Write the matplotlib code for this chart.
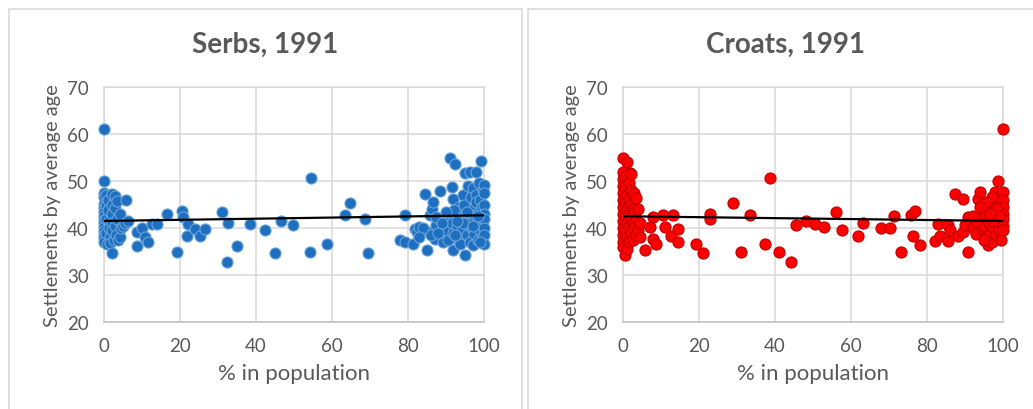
"""Settlements by average age vs. share of Serbs / Croats, 1991."""

import matplotlib

matplotlib.use("Agg")
import matplotlib.pyplot as plt
from matplotlib.patches import Rectangle

WIDTH_PX = 1033
HEIGHT_PX = 410
DPI = 100

# ---- data ----
serbs_pct = [
    0, 0, 0, 0, 0, 0, 0, 0, 0, 0, 0, 0, 0, 0, 0,
    0.5, 0.5, 0.5, 0.5, 0.8, 1.0, 1.0, 1.2, 1.2, 1.5, 1.5,
    2.0, 2.0, 2.0, 2.2, 2.2, 2.2, 2.5, 3.0, 3.0, 3.0, 3.2, 3.5, 3.5, 3.8,
    4.2, 4.2, 4.5, 5.0, 5.5, 5.8, 6.3,
    8.6, 8.8, 10.0, 10.8, 11.7, 12.5, 13.9, 16.5, 19.1, 20.4, 20.7, 21.8,
    22.2, 23.9, 25.3, 26.6, 31.0, 32.3, 32.7, 35.1, 38.4, 42.3, 45.0, 46.5,
    49.8, 54.4, 54.2, 58.6, 63.4, 64.7, 68.7, 69.6,
    77.9, 79.2, 79.2, 81.4, 81.8, 82.3, 82.8, 84.5, 84.9, 85.4, 85.8, 86.3,
    86.7, 87.1, 87.5, 88.4, 88.8, 89.3, 89.8, 90.3, 90.5, 91.0, 91.5, 91.5,
    91.9, 91.9, 91.9, 92.4, 92.6, 92.8, 93.2, 93.5, 93.8, 94.0, 94.2, 94.5,
    94.8, 95.0, 95.0, 95.2, 95.5, 95.8, 96.0, 96.3, 96.3, 96.5, 96.8, 97.0,
    97.0, 97.2, 97.5, 97.5, 97.8, 98.0, 98.0, 98.2, 98.4, 98.6, 98.8, 99.0,
    99.0, 99.3, 99.3, 99.5, 99.6, 99.7, 99.8, 100, 100, 100, 100, 100, 100,
    100, 100, 96.0, 94.5, 92.0, 93.0, 90.0, 87.5, 84.0, 83.0, 86.0, 88.0,
    89.0, 92.5, 95.5, 97.0, 98.5, 99.0,
]
serbs_age = [
    61.1, 50.1, 47.4, 46.5, 45.2, 44.3, 43.5, 42.6, 41.8, 41.0, 40.2, 39.4, 38.6, 37.8, 37.0,
    47.0, 44.8, 42.0, 39.0, 36.5, 46.0, 43.8, 41.5, 40.0, 38.0, 36.8,
    47.2, 45.0, 43.0, 41.0, 39.5, 34.7, 37.5, 46.8, 44.2, 40.5, 38.5, 45.7, 42.0, 37.5,
    43.0, 38.0, 40.0, 40.5, 41.0, 45.9, 41.5,
    39.1, 36.2, 40.0, 38.0, 37.0, 40.8, 40.9, 43.0, 34.9, 43.7, 42.3, 38.4,
    40.9, 39.8, 38.4, 39.8, 43.4, 32.8, 41.1, 36.2, 40.9, 39.5, 34.7, 41.4,
    40.6, 50.7, 34.8, 36.7, 42.8, 45.4, 42.0, 34.7,
    37.4, 42.8, 37.0, 36.7, 39.8, 39.1, 40.3, 47.3, 35.3, 39.1, 42.7, 44.0,
    45.5, 37.7, 40.6, 47.8, 41.5, 37.0, 39.5, 42.0, 37.5, 54.8, 48.7, 41.0,
    46.2, 35.3, 39.0, 53.7, 43.0, 40.5, 37.7, 44.5, 36.5, 42.0, 39.5, 47.0,
    45.0, 34.3, 51.6, 41.5, 38.5, 49.0, 43.5, 51.9, 37.0, 46.5, 40.0, 48.5,
    44.0, 36.3, 42.5, 38.8, 47.0, 51.9, 45.5, 41.0, 37.5, 49.5, 43.5, 39.5,
    46.0, 54.3, 41.8, 38.0, 44.5, 48.0, 40.5, 49.1, 47.5, 45.0, 43.0, 42.0, 40.0,
    38.5, 36.7, 40.8, 41.0, 43.8, 41.5, 43.5, 42.3, 40.0, 38.0, 38.5, 39.0,
    41.0, 38.5, 43.5, 40.5, 42.5, 37.0,
]

croats_pct = [
    0, 1.1, 1.8, 0, 0, 0, 0, 0, 0, 0, 0, 0, 0, 0, 0,
    0.4, 0.5, 0.5, 0.5, 0.5, 0.8, 1.0, 1.0, 1.0, 1.0, 1.0, 1.5, 1.5, 1.5,
    1.5, 1.5, 2.0, 2.0, 2.0, 2.0, 2.0, 2.5, 2.5, 2.5, 2.5, 3.0, 3.0, 3.0,
    3.3, 3.5, 3.5, 4.0, 4.0, 4.5, 4.5,
    5.7, 7.0, 7.9, 7.9, 8.8, 10.5, 11.0, 13.2, 12.7, 14.5, 14.5, 19.3, 21.1,
    22.8, 22.8, 28.9, 31.1, 33.3, 37.3, 38.6, 41.1, 44.1, 45.6, 48.2, 50.4,
    52.9, 56.1, 57.6, 61.8, 63.2, 68.0, 70.2, 71.3, 73.2, 75.9, 76.8, 76.3,
    78.1, 82.0, 82.9, 83.3, 85.5, 85.5, 86.0, 87.3, 88.2, 89.5, 89.5, 90.8,
    90.8, 89.9,
    91.5, 92.0, 92.5, 93.0, 93.4, 93.9, 94.0, 94.5, 94.8, 95.0, 95.3, 95.5,
    96.0, 96.1, 96.3, 96.5, 96.8, 97.0, 97.2, 97.5, 97.8, 98.0, 98.2, 98.5,
    98.7, 98.8, 99.0, 99.2, 99.4, 99.5, 99.6, 100, 100, 100, 100, 100, 100,
    100, 100, 98.5, 97.0, 95.5, 94.0, 93.0, 92.0, 97.5, 99.0, 95.0, 96.5,
]
croats_age = [
    54.9, 54.0, 51.6, 52.0, 50.5, 49.0, 47.5, 46.0, 44.5, 43.0, 41.5, 40.0, 38.5, 37.0, 36.0,
    34.2, 48.5, 45.5, 42.5, 39.5, 51.0, 47.0, 44.0, 41.0, 38.0, 35.5, 49.5, 46.0, 43.0,
    40.5, 37.0, 51.5, 48.0, 45.0, 42.0, 39.0, 47.0, 44.0, 41.0, 37.5, 47.5, 43.5, 40.0,
    46.3, 42.0, 38.5, 44.0, 39.5, 41.0, 38.0,
    35.3, 40.2, 42.3, 37.7, 36.7, 42.7, 40.2, 42.8, 38.4, 39.8, 37.0, 36.5, 34.7,
    43.0, 42.0, 45.4, 34.8, 42.8, 36.7, 50.7, 34.8, 32.8, 40.6, 41.4, 40.9,
    40.2, 43.3, 39.5, 38.4, 41.1, 40.0, 39.9, 42.6, 35.0, 42.8, 43.7, 38.4,
    36.3, 37.2, 40.9, 38.3, 40.6, 37.2, 39.5, 47.3, 38.3, 46.2, 39.1, 34.8,
    42.3, 40.6,
    41.5, 40.0, 42.0, 38.8, 46.2, 47.7, 41.0, 43.0, 39.5, 40.5, 42.5, 38.0,
    44.5, 36.3, 41.0, 39.0, 45.5, 42.0, 37.0, 40.0, 47.7, 43.5, 38.5, 41.5,
    50.1, 45.0, 39.5, 43.0, 37.5, 46.0, 41.0, 61.1, 47.7, 46.0, 44.5, 43.0, 42.0,
    40.5, 39.5, 44.0, 46.5, 45.5, 44.5, 41.5, 42.5, 41.5, 42.5, 37.5, 43.0,
]

trend_pct = [0, 100]
serbs_trend = [41.5, 42.7]
croats_trend = [42.5, 41.5]

x_ticks = [0, 20, 40, 60, 80, 100]
y_ticks = [20, 30, 40, 50, 60, 70]

# ---- style ----
text_grey = "#595959"
grid_grey = "#d9d9d9"
frame_grey = "#d9d9d9"

plt.rcParams["font.family"] = ["Lato", "DejaVu Sans"]

fig = plt.figure(figsize=(WIDTH_PX / DPI, HEIGHT_PX / DPI), dpi=DPI, facecolor="white")

# panel frames (chart-area borders): (left px, right px)
frames = [(9, 522), (528, 1045)]
for x0, x1 in frames:
    fig.add_artist(Rectangle((x0 / WIDTH_PX, -0.05), (x1 - x0) / WIDTH_PX,
                             1 - 10 / HEIGHT_PX + 0.05, transform=fig.transFigure,
                             facecolor="none", edgecolor=frame_grey, linewidth=1.2))

panels = [
    ("Serbs, 1991", serbs_pct, serbs_age, serbs_trend, "#1f6fc0", "#6aa3da", 104, 265),
    ("Croats, 1991", croats_pct, croats_age, croats_trend, "#ff0000", "#c00000", 623, 785),
]

for title, xs, ys, trend, face, edge, left_px, title_px in panels:
    ax = fig.add_axes((left_px / WIDTH_PX, 1 - 323 / HEIGHT_PX, 380 / WIDTH_PX, 235 / HEIGHT_PX))
    ax.set_xlim(0, 100)
    ax.set_ylim(20, 70)
    ax.set_xticks(x_ticks)
    ax.set_yticks(y_ticks)
    ax.grid(True, color=grid_grey, linewidth=1.1)
    ax.set_axisbelow(True)
    for spine in ax.spines.values():
        spine.set_color(grid_grey)
        spine.set_linewidth(1.1)
    ax.spines["bottom"].set_color("#bfbfbf")
    ax.tick_params(length=0, labelsize=13.5, labelcolor=text_grey, pad=11)

    ax.scatter(xs, ys, s=64, facecolor=face, edgecolor=edge, linewidth=0.8,
               zorder=3, clip_on=False)
    ax.plot(trend_pct, trend, color="black", linewidth=1.6, zorder=4)

    ax.set_xlabel("% in population", fontsize=16, color=text_grey, labelpad=6)
    ax.set_ylabel("Settlements by average age", fontsize=14.5, color=text_grey, labelpad=4)
    fig.text(title_px / WIDTH_PX, 1 - 45 / HEIGHT_PX, title, fontsize=20,
             fontweight="bold", color=text_grey, ha="center", va="center")

fig.savefig("out.png", dpi=DPI, facecolor="white")
